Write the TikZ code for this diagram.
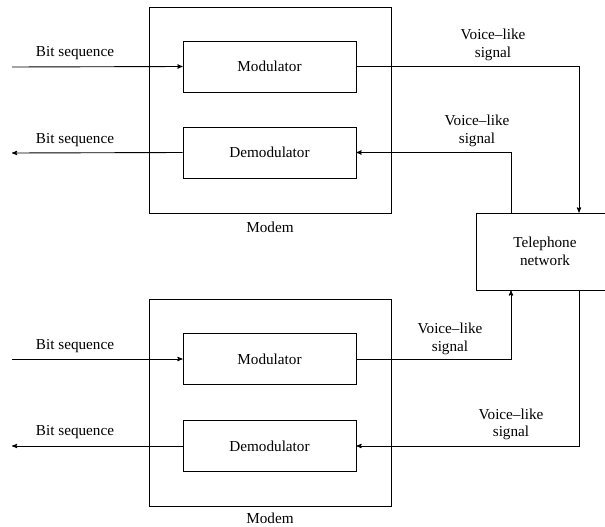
\documentclass[tikz,border=0pt]{standalone}
\usepackage{fontspec}
\setmainfont{Liberation Serif}
\usepackage{tikz}
\usetikzlibrary{arrows}

\tikzset{
  blockbox/.style={draw, rectangle, minimum width=173, minimum height=51, inner sep=0pt},
  modembox/.style={draw, rectangle, minimum width=242, minimum height=206, inner sep=0pt},
  lbl/.style={align=center, inner sep=0pt}
}

\begin{document}
\begin{tikzpicture}[x=1pt, y=-1pt, line width=0.9pt, >=stealth',
    font=\fontsize{15.2}{17.5}\selectfont]
  \clip (0,0) rectangle (605,527);
  %% upper modem
  \node[modembox] (modemA) at (270,110) {};
  \node[blockbox] (modA)   at (269.5,66.5)  {Modulator};
  \node[blockbox] (demodA) at (269.5,152.5) {Demodulator};
  \node[lbl] (modemAlbl) at (270,227) {Modem};
  %% lower modem
  \node[modembox, minimum height=207] (modemB) at (270,402.5) {};
  \node[blockbox] (modB)   at (269.5,359) {Modulator};
  \node[blockbox] (demodB) at (269.5,446) {Demodulator};
  \node[lbl] (modemBlbl) at (270,518) {Modem};
  %% network
  \node[draw, rectangle, minimum width=138, minimum height=77, align=center] (tel) at (545,251.5) {Telephone\\network};
  %% free ends
  \coordinate (inA)  at (12,67);
  \coordinate (outA) at (12,153);
  \coordinate (inB)  at (12,359);
  \coordinate (outB) at (12,446);
  \node[lbl] (bitA1) at (75,53)  {Bit sequence};
  \node[lbl] (bitA2) at (75,140) {Bit sequence};
  \node[lbl] (bitB1) at (75,346) {Bit sequence};
  \node[lbl] (bitB2) at (75,432) {Bit sequence};
  \node[lbl] (voiceA) at (493,45)    {Voice--like\\signal};
  \node[lbl] (voiceB) at (477,131)   {Voice--like\\signal};
  \node[lbl] (voiceC) at (450,339)   {Voice--like\\signal};
  \node[lbl] (voiceD) at (511,424.5) {Voice--like\\signal};
  %% connectors
  \draw[->] (inA) -- (modA.west);
  \draw[->] (demodA.west) -- (outA);
  \draw[->] (inB) -- (modB.west);
  \draw[->] (demodB.west) -- (outB);
  \draw[->] (modA.east) -| ([xshift=34pt]tel.north);
  \draw[->] ([xshift=-34pt]tel.north) |- (demodA.east);
  \draw[->] (modB.east) -| ([xshift=-34pt]tel.south);
  \draw[->] ([xshift=34pt]tel.south) |- (demodB.east);
\end{tikzpicture}
\end{document}
